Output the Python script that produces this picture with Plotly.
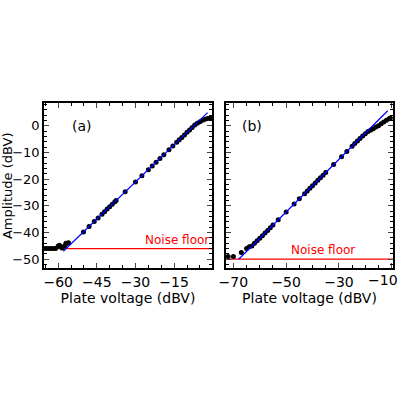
import plotly.graph_objects as go

# panel (a) measured data
volt_a = [-65, -64, -63, -62, -61, -60, -59.5, -59, -58.5, -58, -57.5, -57, -56.5, -56,
          -50.2, -48, -46, -44.5, -43, -42, -41, -40, -39, -38, -37.5, -34,
          -30, -27.5, -25, -23.5, -22, -20.5, -19, -17, -15.5, -14, -13, -12,
          -11, -10, -9, -8, -7, -6, -5, -4, -3, -2, -1, -0.5]
amp_a = [-46, -46, -46, -46, -46, -45, -44.8, -45.2, -45.8, -45.5, -45, -44, -44, -43.8,
         -39.8, -37.7, -35.9, -34.5, -33.1, -32.2, -31.2, -30.3, -29.4, -28.4, -28, -24.7,
         -21, -18.7, -16.4, -15, -13.6, -12.2, -10.8, -8.9, -7.5, -6.1, -5.2, -4.3,
         -3.4, -2.4, -1.5, -0.6, 0.3, 1.0, 1.6, 2.1, 2.5, 2.8, 3.0, 3.1]
fit_a_x = [-58, -2]
fit_a_y = [-47, 5]

# panel (b) measured data
volt_b = [-72, -70, -67, -65, -64, -63, -62, -61, -60, -59, -58, -57, -56, -55, -53,
          -50, -47, -45, -43, -42, -41, -40, -39, -38, -37, -36, -35, -32, -29, -27,
          -25, -24, -23, -22, -21, -20, -19, -18, -17, -16, -15, -14, -13, -12, -11, -10.5]
amp_b = [-49, -49, -47.5, -46, -45.3, -45, -44, -43.1, -42.1, -41.2, -40.2, -39.2, -38.2, -37.2, -35.2,
         -32.3, -29.3, -27.3, -25.4, -24.4, -23.4, -22.4, -21.4, -20.4, -19.4, -18.5, -17.5, -14.5, -11.6, -9.6,
         -7.6, -6.6, -5.7, -4.7, -3.8, -2.9, -2.1, -1.6, -1.1, -0.4, 0.1, 0.8, 1.5, 2.1, 2.7, 3]
fit_b_x = [-68, -11.5]
fit_b_y = [-50, 5.7]

noise_a = -46
noise_b = -50

fig = go.Figure()
for xa, ya, vx, vy, fx, fy, nf, xr in [
    ("x", "y", volt_a, amp_a, fit_a_x, fit_a_y, noise_a, [-65.5, -0.3]),
    ("x2", "y2", volt_b, amp_b, fit_b_x, fit_b_y, noise_b, [-72.8, -9.5]),
]:
    fig.add_trace(go.Scatter(x=xr, y=[nf, nf], mode="lines", line=dict(color="red", width=1.3),
                             xaxis=xa, yaxis=ya, showlegend=False))
    fig.add_trace(go.Scatter(x=vx, y=vy, mode="markers", marker=dict(color="black", size=5),
                             xaxis=xa, yaxis=ya, showlegend=False))
    fig.add_trace(go.Scatter(x=fx, y=fy, mode="lines", line=dict(color="blue", width=1.2),
                             xaxis=xa, yaxis=ya, showlegend=False))

axis_style = dict(showline=True, linecolor="black", linewidth=1.5, mirror="ticks", ticks="inside",
                  ticklen=5, tickwidth=1, showgrid=False, zeroline=False, automargin=False,
                  tickfont=dict(size=14, color="black"),
                  minor=dict(ticks="inside", ticklen=3, tickcolor="black"))
fig.update_layout(
    width=400, height=400, margin=dict(l=0, r=0, t=0, b=0),
    plot_bgcolor="white", paper_bgcolor="white",
    font=dict(family="DejaVu Sans", color="black"),
    xaxis=dict(domain=[0.11, 0.53], range=[-65.5, -0.3], tickvals=[-60, -45, -30, -15],
               ticktext=["\u221260", "\u221245", "\u221230", "\u221215"],
               title=dict(text="Plate voltage (dBV)", font=dict(size=14), standoff=2),
               anchor="y", minor_dtick=5, **axis_style),
    yaxis=dict(domain=[0.33, 0.7425], range=[-53.3, 8.6], tickvals=[0, -10, -20, -30, -40, -50],
               ticktext=["0", "\u221210", "\u221220", "\u221230", "\u221240", "\u221250"],
               anchor="x", minor_dtick=2, **{**axis_style, "tickfont": dict(size=13, color="black")}),
    xaxis2=dict(domain=[0.565, 0.9825], range=[-72.8, -9.5], tickvals=[-70, -50, -30, -10],
                ticktext=["\u221270", "\u221250", "\u221230", ""],
                title=dict(text="Plate voltage (dBV)", font=dict(size=14), standoff=2),
                anchor="y2", minor_dtick=5, **axis_style),
    yaxis2=dict(domain=[0.33, 0.7425], range=[-53.3, 8.6], dtick=10, showticklabels=False,
                anchor="x2", minor_dtick=2, **axis_style),
    annotations=[
        dict(text="Amplitude (dBV)", x=0.0, y=0.536, xref="paper", yref="paper",
             xanchor="left", xshift=-2, textangle=-90, showarrow=False, font=dict(size=13)),
        dict(text="(a)", x=0.175, y=0.71, xref="paper", yref="paper", showarrow=False,
             font=dict(size=14)),
        dict(text="(b)", x=0.63, y=0.71, xref="paper", yref="paper", showarrow=False,
             font=dict(size=14)),
        dict(text="\u221210", x=1.0, y=0.33, xref="paper", yref="paper", yanchor="top",
             xanchor="right", yshift=-2, showarrow=False, font=dict(size=14)),
        dict(text="Noise floor", x=-14, y=noise_a, xref="x", yref="y", yanchor="bottom",
             showarrow=False, font=dict(size=12, color="red")),
        dict(text="Noise floor", x=-36, y=noise_b, xref="x2", yref="y2", yanchor="bottom",
             showarrow=False, font=dict(size=12, color="red")),
    ],
)
fig.write_html("out.html", config={"displayModeBar": False},
               post_script="document.body.style.margin='0';")
